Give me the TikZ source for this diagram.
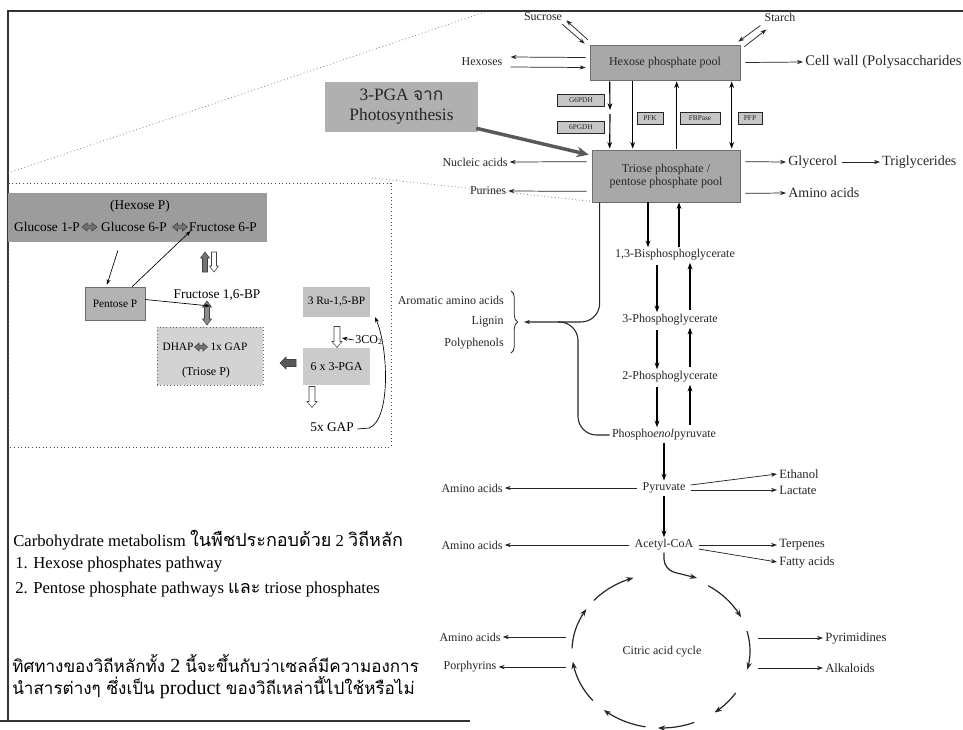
\documentclass[tikz,border=0pt]{standalone}
\usepackage{fontspec}
\setmainfont{Liberation Serif}
\newfontfamily\thaifont[Script=Thai]{Loma}
\usetikzlibrary{arrows.meta,decorations.pathreplacing,calc}

\definecolor{ink}{HTML}{262626}
\definecolor{poolfill}{HTML}{A8A8A8}
\definecolor{boxedge}{HTML}{6E6E6E}
\definecolor{enzfill}{HTML}{C6C6C6}
\definecolor{pgafill}{HTML}{B0B0B0}
\definecolor{hexPfill}{HTML}{9C9C9C}
\definecolor{pentfill}{HTML}{B3B3B3}
\definecolor{triPfill}{HTML}{D3D3D3}
\definecolor{rufill}{HTML}{C2C2C2}
\definecolor{pgasixfill}{HTML}{CBCBCB}

% Thai runs inside the notes, at two sizes
\newcommand\thaiSmall[1]{{\thaifont\fontsize{13.5}{15}\selectfont #1}}
\newcommand\thaiLarge[1]{{\thaifont\fontsize{12.8}{15}\selectfont #1}}

% block arrows: length / half shaft / half head / head length, pointing along +x
\tikzset{
  pics/sblock/.style args={#1/#2/#3/#4}{code={
    \path[pic actions] ({-#1/2},{-#2}) -- ({#1/2-#4},{-#2}) -- ({#1/2-#4},{-#3}) -- ({#1/2},0)
      -- ({#1/2-#4},{#3}) -- ({#1/2-#4},{#2}) -- ({-#1/2},{#2}) -- cycle;}},
  pics/dblock/.style args={#1/#2/#3/#4}{code={
    \path[pic actions] ({-#1/2},0) -- ({-#1/2+#4},{-#3}) -- ({-#1/2+#4},{-#2}) -- ({#1/2-#4},{-#2})
      -- ({#1/2-#4},{-#3}) -- ({#1/2},0) -- ({#1/2-#4},{#3}) -- ({#1/2-#4},{#2})
      -- ({-#1/2+#4},{#2}) -- ({-#1/2+#4},{#3}) -- cycle;}}
}

\begin{document}
\begin{tikzpicture}[x=0.75pt,y=-0.75pt,
  lbl/.style={font=\fontsize{9}{10.5}\selectfont, text=ink, inner sep=1.5pt},
  rlbl/.style={font=\fontsize{10.5}{12}\selectfont, text=ink, inner sep=1.5pt},
  ilbl/.style={font=\fontsize{10}{12}\selectfont, text=black, inner sep=1pt},
  notes/.style={font=\fontsize{12.5}{14}\selectfont, text=black, inner sep=0pt, anchor=west},
  bignotes/.style={font=\fontsize{15}{17}\selectfont, text=black, inner sep=0pt, anchor=west},
  pool/.style={draw=boxedge, fill=poolfill, line width=0.5pt, inner sep=0pt,
    font=\fontsize{9}{10}\selectfont, align=center, text=ink},
  enz/.style={draw=ink, fill=enzfill, line width=0.5pt, inner sep=0pt,
    font=\fontsize{5.5}{6}\selectfont, text=ink, minimum height=9pt},
  arr/.style={draw=ink, line width=0.55pt, -{Stealth[length=4.5pt,width=3.2pt]}},
  earr/.style={draw=black, line width=0.85pt, -{Stealth[length=5pt,width=3.6pt]}},
  edarr/.style={draw=black, line width=0.85pt, {Stealth[length=5pt,width=3.6pt]}-{Stealth[length=5pt,width=3.6pt]}},
  cyc/.style={draw=black!85, line width=0.9pt, -{Stealth[length=5.5pt,width=4pt]}},
  iarr/.style={draw=black, line width=0.5pt, -{Stealth[length=4pt,width=3pt]}},
  zoomline/.style={draw=gray, dotted, line width=0.6pt},
  frame/.style={draw=black!80, line width=2pt},
  blkdark/.style={draw=black!75, line width=0.4pt, fill=black!55},
  blkhollow/.style={draw=black!75, line width=0.4pt, fill=white}]

\useasboundingbox (0,0) rectangle (963,729);
\fill[white] (0,0) rectangle (963,729);

% page frame
\draw[frame] (8,721) -- (8,11) -- (963,11);
\draw[frame] (0,721) -- (470,721);

% guide lines from the overview to the detail panel
\draw[zoomline] (8,173) -- (485,12);
\draw[zoomline] (372,178) -- (607,203);

% ---------------- main pathway ----------------
\node[pool, minimum width=112.5pt, minimum height=26.25pt] (hexpool) at (665,62.5) {Hexose phosphate pool};
\node[pool, minimum width=111pt, minimum height=39pt] (triose) at (666,176) {Triose phosphate /\\pentose phosphate pool};

\node[lbl] (sucrose) at (543,17) {Sucrose};
\node[lbl] (starch) at (780,17) {Starch};
\node[lbl] (hexoses) at (482,62) {Hexoses};
\node[rlbl, font=\fontsize{11}{12}\selectfont, anchor=west] (cellwall) at (803,62) {Cell wall (Polysaccharides};

\draw[arr] ($(hexpool.north west)+(-2,-5)$) -- ($(sucrose.south east)+(2,-3)$);
\draw[arr] ($(sucrose.south east)+(-2,1)$) -- ($(hexpool.north west)+(-5,-1)$);
\draw[arr] ($(starch.south west)+(-2,2)$) -- ($(hexpool.north east)+(-2,-3)$);
\draw[arr] ($(hexpool.north east)+(4,2)$) -- ($(starch.south west)+(4,6)$);
\draw[arr] ($(hexpool.west)+(-4,-5)$) -- ($(hexoses.east)+(6,-5)$);
\draw[arr] ($(hexoses.east)+(6,5)$) -- ($(hexpool.west)+(-4,5)$);
\draw[arr] ($(hexpool.east)+(5,0)$) -- (cellwall.west);

% enzymes between the two pools
\node[enz, minimum width=35pt] (gpdh) at (581,100) {G6PDH};
\node[enz, minimum width=35pt] (pgdh) at (581,127) {6PGDH};
\node[enz, minimum width=19.5pt] (pfk) at (650,118) {PFK};
\node[enz, minimum width=30pt] (fbpase) at (700,118) {FBPase};
\node[enz, minimum width=18pt] (pfp) at (750,118) {PFP};

\coordinate (splitA) at (610,110);
\coordinate (splitB) at (610,114);
\draw[earr] ($(hexpool.south west)+(20,1)$) -- (splitA);
\draw[earr] (splitB) -- ($(triose.north west)+(18,-1)$);
\draw[earr] ($(hexpool.south west)+(43,1)$) -- ($(triose.north west)+(41,-1)$);
\draw[earr] ($(triose.north west)+(85,-1)$) -- ($(hexpool.south west)+(87,1)$);
\draw[edarr] ($(triose.north west)+(140,-1)$) -- ($(hexpool.south west)+(142,1)$);

% 3-PGA input
\node[fill=pgafill, inner sep=0pt, minimum width=114.75pt, minimum height=37.5pt,
  align=center, font=\fontsize{13}{15}\selectfont, text=black!85] (pga) at (401.5,107)
  {3-PGA {\thaifont จาก}\\Photosynthesis};
\draw[draw=black!65, line width=2.6pt, -{Stealth[length=9pt,width=8pt]}]
  ($(pga.south east)+(-2,-4)$) -- ($(triose.north west)+(-3,5)$);

% branches of the triose pool
\node[lbl] (nucleic) at (475,162) {Nucleic acids};
\node[lbl] (purines) at (488,191) {Purines};
\node[rlbl, anchor=west] (glycerol) at (786,162) {Glycerol};
\node[rlbl, anchor=west] (trig) at (880,162) {Triglycerides};
\node[rlbl, anchor=west] (aaA) at (786,193) {Amino acids};
\draw[arr] ($(triose.north west)+(-5,12)$) -- (nucleic.east);
\draw[arr] ($(triose.south west)+(-5,-11)$) -- (purines.east);
\draw[arr] ($(triose.north east)+(5,12)$) -- (glycerol.west);
\draw[arr] ($(glycerol.east)+(2,0)$) -- (trig.west);
\draw[arr] ($(triose.south east)+(5,-9)$) -- (aaA.west);

% lower glycolysis
\node[lbl] (bpg) at (675,255) {1,3-Bisphosphoglycerate};
\node[lbl] (pgthree) at (670,320) {3-Phosphoglycerate};
\node[lbl] (pgtwo) at (670,377) {2-Phosphoglycerate};
\node[lbl] (pep) at (664,435) {Phospho\textit{enol}pyruvate};
\node[lbl] (pyr) at (664,488) {Pyruvate};
\node[lbl] (acoa) at (664,545) {Acetyl-CoA};

\coordinate (tdx) at (648,0);
\coordinate (tux) at (679,0);
\coordinate (dnx) at (657,0);
\coordinate (upx) at (690,0);
\draw[earr] (tdx |- triose.south) -- (tdx |- bpg.north);
\draw[earr] (tux |- bpg.north) -- (tux |- triose.south);
\draw[earr, shorten <=2pt] (dnx |- bpg.south) -- (dnx |- pgthree.north);
\draw[earr, shorten <=2pt] (upx |- pgthree.north) -- (upx |- bpg.south);
\draw[earr, shorten <=2pt] (dnx |- pgthree.south) -- (dnx |- pgtwo.north);
\draw[earr, shorten <=2pt] (upx |- pgtwo.north) -- (upx |- pgthree.south);
\draw[earr, shorten <=2pt] (dnx |- pgtwo.south) -- (dnx |- pep.north);
\draw[earr, shorten <=2pt] (upx |- pep.north) -- (upx |- pgtwo.south);

% aromatic branch
\node[lbl, anchor=east] (arom) at (506,300) {Aromatic amino acids};
\node[lbl, anchor=east] (lignin) at (506,322) {Lignin};
\node[lbl, anchor=east] (polyph) at (506,344) {Polyphenols};
\coordinate (brT) at (511,291);
\coordinate (brB) at (511,353);
\draw[decorate, decoration={brace, amplitude=5pt}, ink, line width=0.6pt] (brT) -- (brB);
\coordinate (aromtip) at (524,322);
\coordinate (pepbend) at (578,322);
\draw[arr, line width=0.8pt, rounded corners=14pt] ($(triose.south west)+(8,0)$) |- (aromtip);
\draw[draw=ink, line width=0.8pt, rounded corners=14pt] (pep.west) -| (pepbend) -- ($(pepbend)+(-20,0)$);

% pyruvate and acetyl-CoA
\draw[earr] (pep.south) -- (pyr.north);
\draw[earr] (pyr.south) -- (acoa.north);
\node[lbl] (aaB) at (472,488) {Amino acids};
\node[lbl, font=\fontsize{9.5}{11}\selectfont, anchor=west] (ethanol) at (777,474) {Ethanol};
\node[lbl, font=\fontsize{9.5}{11}\selectfont, anchor=west] (lactate) at (777,490) {Lactate};
\draw[arr] ($(pyr.west)+(-3,0)$) -- (aaB.east);
\draw[arr] ($(pyr.east)+(3,-3)$) -- (ethanol.west);
\draw[arr] ($(pyr.east)+(3,2)$) -- (lactate.west);

\node[lbl] (aaC) at (472,545) {Amino acids};
\node[lbl, font=\fontsize{9.5}{11}\selectfont, anchor=west] (terp) at (777,545) {Terpenes};
\node[lbl, font=\fontsize{9.5}{11}\selectfont, anchor=west] (fatty) at (777,562) {Fatty acids};
\draw[arr] ($(acoa.west)+(-3,0)$) -- (aaC.east);
\draw[arr] ($(acoa.east)+(3,0)$) -- (terp.west);
\draw[arr] ($(acoa.east)+(3,4)$) -- (fatty.west);

% citric acid cycle
\node[lbl] (citric) at (662,652) {Citric acid cycle};
\coordinate (cycEntry) at (697,578);
\draw[cyc, rounded corners=8pt] (acoa.south) -- ++(0,17) -- (cycEntry);
\foreach \a/\b in {-58/-26, -15/14, 33/53, 68/92, 100/130, 140/172, 182/213, 221/252}
  \draw[cyc] plot[smooth, domain=\a:\b, samples=12] ({661+89*cos(\x)},{651+77*sin(\x)});

\node[lbl] (aaD) at (470,637) {Amino acids};
\node[lbl] (porph) at (470,667) {Porphyrins};
\node[lbl, font=\fontsize{9.5}{11}\selectfont, anchor=west] (pyrim) at (823,638) {Pyrimidines};
\node[lbl, font=\fontsize{9.5}{11}\selectfont, anchor=west] (alk) at (823,668) {Alkaloids};
\coordinate (cycLa) at (566,637);
\coordinate (cycLb) at (566,667);
\coordinate (cycRa) at (758,638);
\coordinate (cycRb) at (758,668);
\draw[arr] (cycLa) -- (aaD.east);
\draw[arr] (cycLb) -- (porph.east);
\draw[arr] (cycRa) -- (pyrim.west);
\draw[arr] (cycRb) -- (alk.west);

% ---------------- detail panel ----------------
\draw[dotted, line width=0.7pt, black!70] (8,183) rectangle (391,447);

\node[fill=hexPfill, inner sep=0pt, minimum width=194pt, minimum height=37pt] (hexPbox) at (137.5,217.5) {};
\node[ilbl] (hexPlabel) at (140,206) {(Hexose P)};
\node[ilbl] (gonep) at (47,227) {Glucose 1-P};
\node[ilbl] (gsixp) at (134,227) {Glucose 6-P};
\node[ilbl] (fsixp) at (223,227) {Fructose 6-P};
\pic[blkdark] at (89.5,227) {dblock=15/1.8/4/5};
\pic[blkdark] at (180,227) {dblock=15/1.8/4/5};

% Fructose 6-P <-> Fructose 1,6-BP
\pic[blkdark, rotate=90] at (205,262) {sblock=20/2.5/4.5/6};
\pic[blkhollow, rotate=-90] at (214,262) {sblock=20/2.5/4.5/6};
\node[ilbl] (fbp) at (217,295) {Fructose 1,6-BP};
\pic[blkdark, fill=black!45, rotate=90] at (207,313) {dblock=24/2.5/4.5/6};
\coordinate (vdblMid) at (210,306);

\node[draw=boxedge, line width=0.4pt, fill=pentfill, inner sep=0pt, minimum width=45pt, minimum height=25pt,
  font=\fontsize{8.5}{10}\selectfont] (pentose) at (115,303.5) {Pentose P};
\node[draw=black!60, dotted, line width=0.5pt, fill=triPfill, inner sep=0pt, minimum width=79.5pt, minimum height=43.5pt] (triP) at (210,356) {};
\node[ilbl, font=\fontsize{8.5}{10}\selectfont] (dhap) at (178,347) {DHAP};
\pic[blkdark] at (201,347) {dblock=13/1.8/4/4.5};
\node[ilbl, font=\fontsize{8.5}{10}\selectfont] (gapone) at (229,347) {1x GAP};
\node[ilbl, font=\fontsize{9}{10}\selectfont] (triPlabel) at (206,373) {(Triose P)};

\draw[iarr] ($(hexPbox.south west)+(110,8)$) -- ($(pentose.north)+(-8,-2)$);
\draw[iarr] ($(pentose.north east)+(-13,0)$) -- ($(fsixp.south west)+(3,-2)$);
\draw[iarr] ($(pentose.east)+(0,-4)$) -- (vdblMid);

% Calvin cycle side
\pic[blkdark, fill=black!65, rotate=180] at (288,363) {sblock=16/3.5/6/6};
\node[fill=rufill, inner sep=0pt, minimum width=50pt, minimum height=22.5pt, font=\fontsize{8.5}{10}\selectfont] (ru) at (336.5,302) {3 Ru-1,5-BP};
\node[fill=pgasixfill, inner sep=0pt, minimum width=50pt, minimum height=28pt, font=\fontsize{9}{10}\selectfont] (pgasix) at (336.5,366.5) {6 x 3-PGA};
\pic[blkhollow, rotate=-90] at (337,337) {sblock=21/3/5/6};
\coordinate (dnAright) at (342,338);
\pic[blkhollow, rotate=-90] at (312,397) {sblock=21/3/5/6};
\node[ilbl, font=\fontsize{9}{10}\selectfont] (co) at (369,340) {3CO\textsubscript{2}};
\draw[iarr] (co.west) -- (dnAright);
\node[ilbl] (gapfive) at (332,427) {5x GAP};
\draw[iarr] ($(gapfive.east)+(2,2)$) -- ($(gapfive.east)+(14,1)$)
  .. controls ($(gapfive.east)+(36,-8)$) and ($(ru.south east)+(18,30)$) .. ($(ru.south east)+(5,0)$);

% ---------------- notes ----------------
\node[notes] (noteA) at (13,540) {Carbohydrate metabolism \thaiSmall{ในพืชประกอบด้วย} 2 \thaiSmall{วิถีหลัก}};
\node[notes] (noteB) at (15,565) {1. Hexose phosphates pathway};
\node[notes] (noteC) at (15,590) {2. Pentose phosphate pathways \thaiSmall{และ} triose phosphates};
\node[bignotes] (noteD) at (12,663) {\thaiLarge{ทิศทางของวิถีหลักทั้ง} 2 \thaiLarge{นี้จะขึ้นกับว่าเซลล์มีความองการ}};
\node[bignotes] (noteE) at (12,688) {\thaiLarge{นำสารต่างๆ ซึ่งเป็น} product \thaiLarge{ของวิถีเหล่านี้ไปใช้หรือไม่}};

\end{tikzpicture}
\end{document}
